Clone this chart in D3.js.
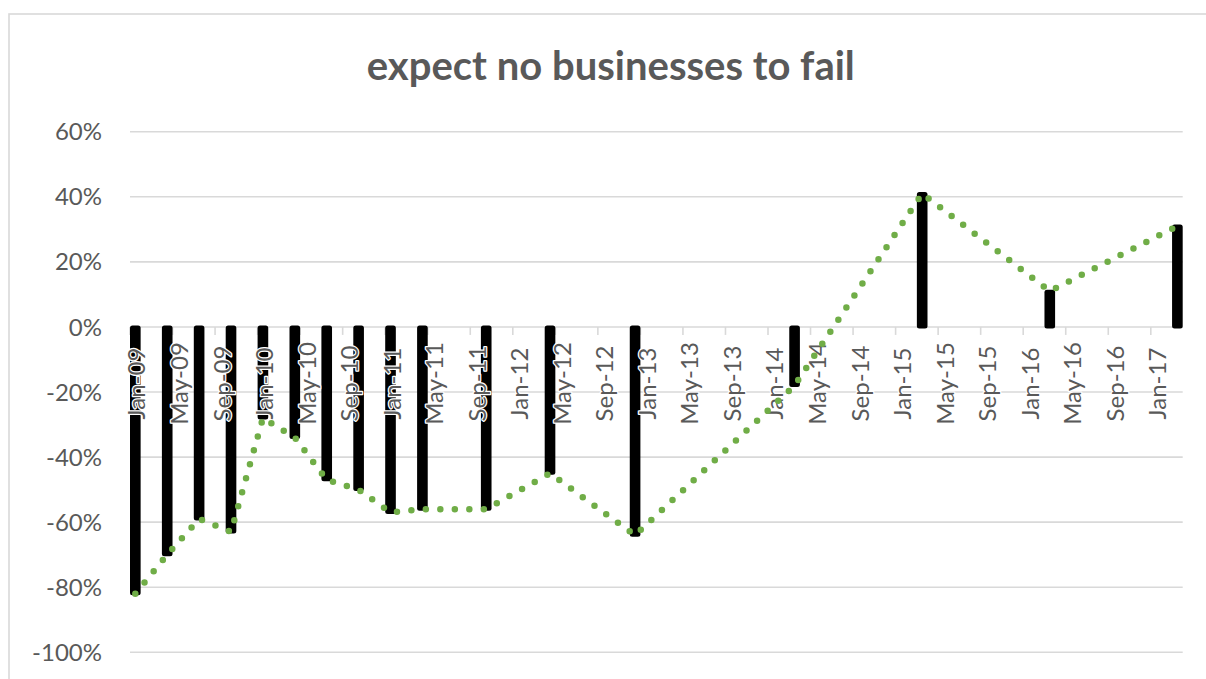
<!DOCTYPE html>
<html>
<head>
<meta charset="utf-8">
<script src="https://cdn.jsdelivr.net/npm/d3@7"></script>
<style>
  html, body { margin: 0; padding: 0; background: #ffffff; }
  svg { display: block; }
  text { font-family: Lato, "Open Sans", "Liberation Sans", sans-serif; }
</style>
</head>
<body>
<svg id="chart" width="1206" height="679"></svg>
<script>
// ---- data ----
const title = "expect no businesses to fail";
const dates = ["2009-01","2009-04","2009-07","2009-10","2010-01","2010-04","2010-07","2010-10",
               "2011-01","2011-04","2011-10","2012-04","2012-12","2014-03","2015-03","2016-03","2017-03"];
const values = [-82,-70,-59,-63,-28,-34,-47,-50,-57,-56,-56,-45,-64,-18,41,11,31];
const yTicks = [60,40,20,0,-20,-40,-60,-80,-100];
const tickDates = ["2009-01","2009-05","2009-09","2010-01","2010-05","2010-09","2011-01","2011-05","2011-09",
                   "2012-01","2012-05","2012-09","2013-01","2013-05","2013-09","2014-01","2014-05","2014-09",
                   "2015-01","2015-05","2015-09","2016-01","2016-05","2016-09","2017-01"];
const tickLabels = ["Jan-09","May-09","Sep-09","Jan-10","May-10","Sep-10","Jan-11","May-11","Sep-11",
                    "Jan-12","May-12","Sep-12","Jan-13","May-13","Sep-13","Jan-14","May-14","Sep-14",
                    "Jan-15","May-15","Sep-15","Jan-16","May-16","Sep-16","Jan-17"];
const axisStart = "2009-01", axisEnd = "2017-04";

// ---- layout ----
const svg = d3.select("#chart");
const plot = {left: 130, right: 1182.7, top: 131.7, bottom: 652.3};
const grey = "#d9d9d9", textCol = "#595959";

const fmt = d3.timeFormat("%Y-%m"), parse = d3.timeParse("%Y-%m");
const months = d3.timeMonth.range(parse(axisStart), parse(axisEnd)).map(fmt);

const x = d3.scaleBand().domain(months).range([plot.left, plot.right]).paddingInner(0).paddingOuter(0);
const y = d3.scaleLinear().domain([-100, 60]).range([plot.bottom, plot.top]);
const bw = x.bandwidth();
const cx = k => x(k) + bw / 2;

// frame
svg.append("rect").attr("x", 9).attr("y", 14).attr("width", 1210).attr("height", 720)
  .attr("fill", "none").attr("stroke", grey).attr("stroke-width", 1.6);

// title
svg.append("text").attr("x", 610.8).attr("y", 80).attr("text-anchor", "middle")
  .attr("font-size", 40).attr("font-weight", 700).attr("fill", textCol).text(title);

// gridlines
svg.append("g").selectAll("line").data(yTicks).join("line")
  .attr("x1", plot.left).attr("x2", plot.right)
  .attr("y1", d => y(d)).attr("y2", d => y(d))
  .attr("stroke", grey).attr("stroke-width", 1.6);

// y labels
svg.append("g").selectAll("text").data(yTicks).join("text")
  .attr("x", 102).attr("y", d => y(d)).attr("dy", "0.36em")
  .attr("text-anchor", "end").attr("font-size", 24).attr("fill", textCol)
  .text(d => d + "%");

// x tick marks
svg.append("g").selectAll("line").data(tickDates).join("line")
  .attr("x1", d => x(d)).attr("x2", d => x(d))
  .attr("y1", y(0)).attr("y2", y(0) + 8)
  .attr("stroke", grey).attr("stroke-width", 1.6);

// bars
const pts = dates.map((d, i) => ({d, v: values[i]}));
svg.append("g").selectAll("rect").data(pts).join("rect")
  .attr("x", p => x(p.d))
  .attr("width", bw)
  .attr("y", p => Math.min(y(0), y(p.v)) - 1.5)
  .attr("height", p => Math.abs(y(p.v) - y(0)) + 3)
  .attr("rx", 2.5)
  .attr("fill", "#000");

// x labels (on top of bars, white halo)
svg.append("g").selectAll("text").data(tickDates).join("text")
  .attr("transform", d => `translate(${cx(d) + 1.5},383.5) rotate(-90)`)
  .attr("dy", "0.36em").attr("text-anchor", "middle")
  .attr("font-size", 24).attr("fill", textCol)
  .attr("stroke", "#fff").attr("stroke-width", 2.5).attr("paint-order", "stroke")
  .attr("stroke-linejoin", "round")
  .text((d, i) => tickLabels[i]);

// dotted line
const line = d3.line().x(p => cx(p.d)).y(p => y(p.v));
svg.append("path").datum(pts).attr("d", line)
  .attr("fill", "none").attr("stroke", "#70AD47").attr("stroke-width", 6.5)
  .attr("stroke-linecap", "round").attr("stroke-linejoin", "round")
  .attr("stroke-dasharray", "0 14.5");
</script>
</body>
</html>
